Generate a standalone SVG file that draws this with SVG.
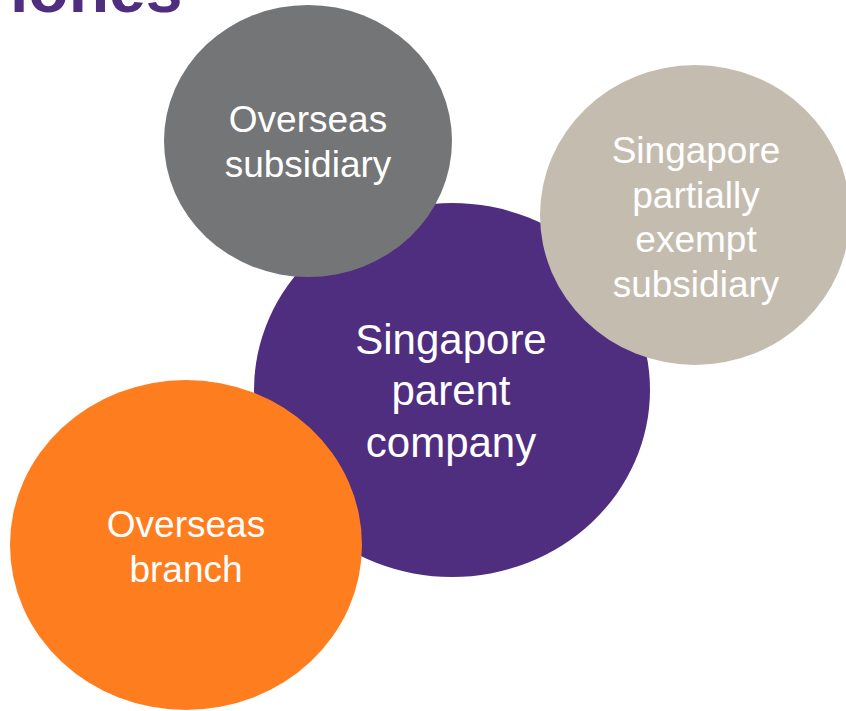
<svg xmlns="http://www.w3.org/2000/svg" width="846" height="711" viewBox="0 0 846 711">
  <style>
    .lbl { font-family: "Liberation Sans", Arial, sans-serif; fill: #ffffff; text-anchor: middle; }
    .sm { font-size: 37px; }
    .lg { font-size: 42px; }
    .title { font-family: "Liberation Sans", Arial, sans-serif; font-weight: bold; font-size: 66px; fill: #4f2d7f; }
  </style>
  <rect width="846" height="711" fill="#ffffff"/>
  <!-- heading, clipped by the top edge -->
  <text class="title" x="10" y="12">iones</text>
  <g id="parent">
    <ellipse cx="452" cy="390" rx="198" ry="187" fill="#4f2d7f"/>
    <text class="lbl lg" x="451" y="354">Singapore</text>
    <text class="lbl lg" x="451" y="405">parent</text>
    <text class="lbl lg" x="451" y="457">company</text>
  </g>
  <g id="overseas-subsidiary">
    <ellipse cx="308" cy="141" rx="144" ry="136" fill="#747576"/>
    <text class="lbl sm" x="308" y="132">Overseas</text>
    <text class="lbl sm" x="308" y="177">subsidiary</text>
  </g>
  <g id="partially-exempt-subsidiary">
    <ellipse cx="695" cy="215" rx="155" ry="150" fill="#c5bcb0"/>
    <text class="lbl sm" x="696" y="163">Singapore</text>
    <text class="lbl sm" x="696" y="208">partially</text>
    <text class="lbl sm" x="696" y="252">exempt</text>
    <text class="lbl sm" x="696" y="297">subsidiary</text>
  </g>
  <g id="overseas-branch">
    <ellipse cx="186" cy="545" rx="176" ry="165" fill="#fe7e1f"/>
    <text class="lbl sm" x="186" y="537">Overseas</text>
    <text class="lbl sm" x="186" y="582">branch</text>
  </g>
</svg>
